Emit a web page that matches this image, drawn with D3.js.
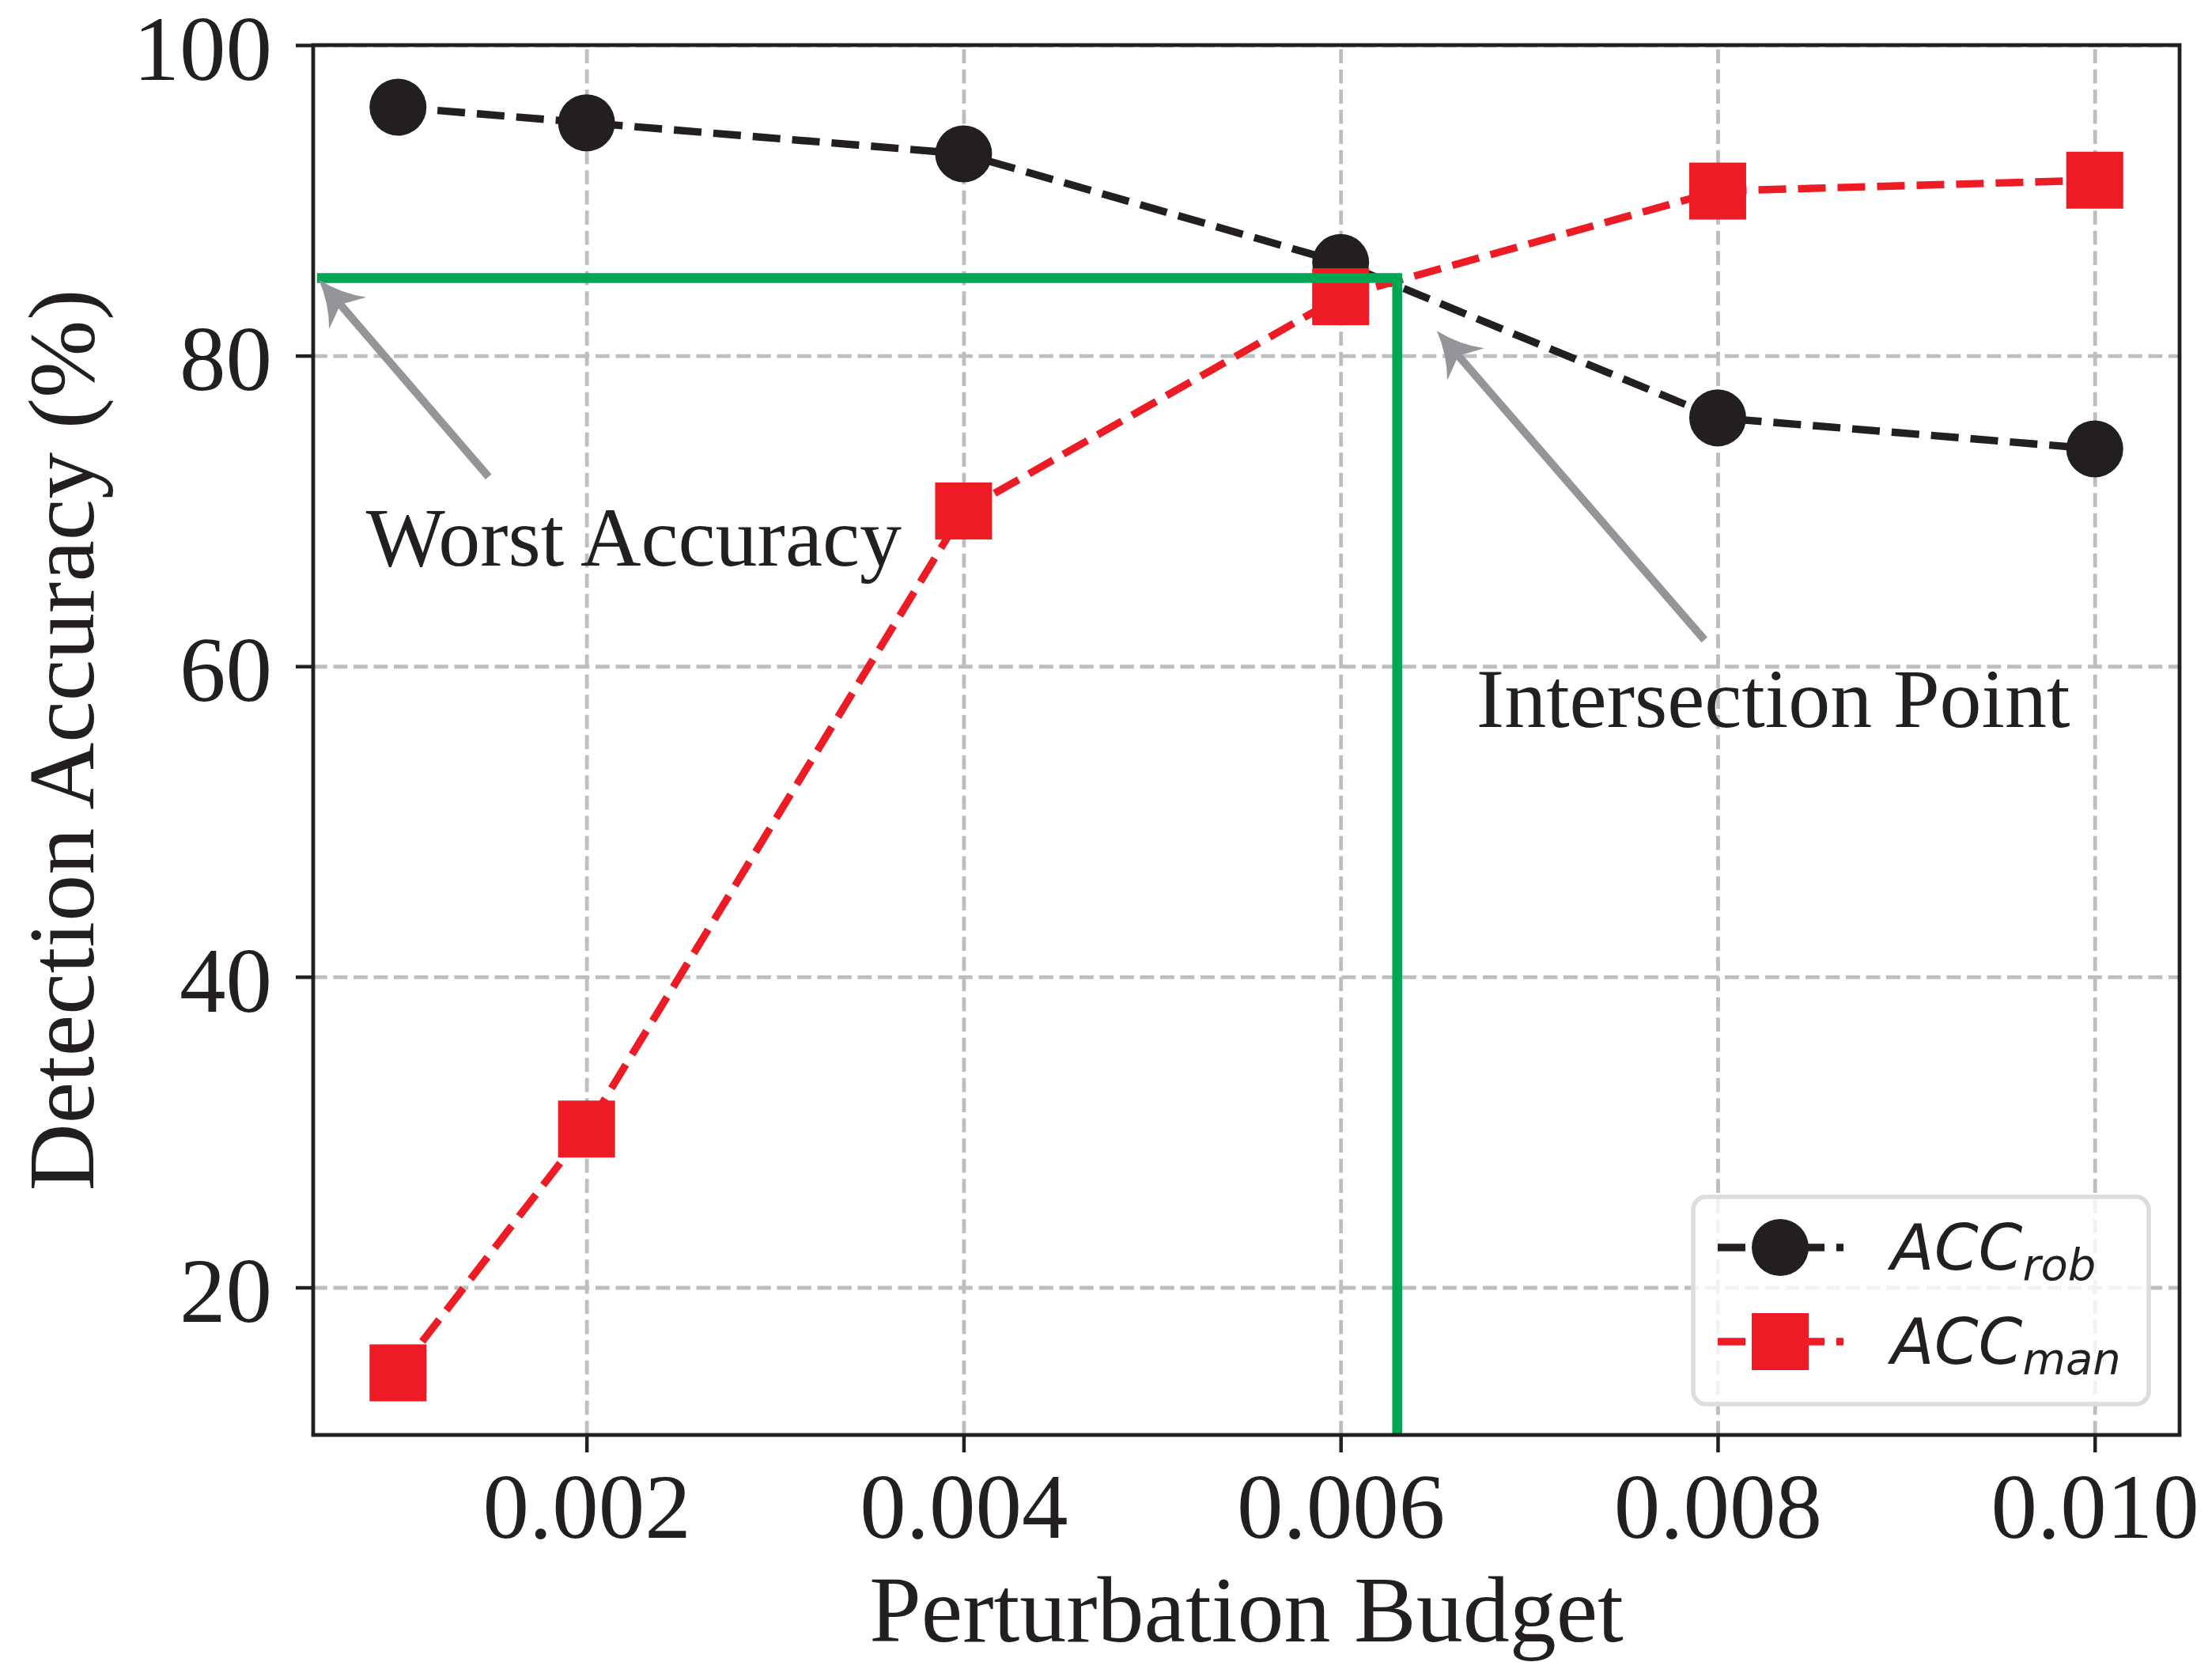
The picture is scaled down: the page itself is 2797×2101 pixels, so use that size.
<!DOCTYPE html>
<html>
<head>
<meta charset="utf-8">
<script src="https://cdn.jsdelivr.net/npm/d3@7"></script>
<style>
  html, body { margin: 0; padding: 0; background: #fff; }
  svg { display: block; }
</style>
</head>
<body>
<div id="chart"></div>
<script>
// perturbation budgets on the x axis
const budgets = [0.001, 0.002, 0.004, 0.006, 0.008, 0.010];
// ACC_rob and ACC_man (%)
const accRob = [96, 95, 93, 86, 76, 74];
const accMan = [14.5, 30.2, 70, 83.8, 90.6, 91.3];

const xTicks = [0.002, 0.004, 0.006, 0.008, 0.010];
const yTicks = [20, 40, 60, 80, 100];

// green guide: worst accuracy level and crossing budget
const guideX = [0.00057, 0.0063, 0.0063];
const guideY = [85, 85, 10.5];

// annotations (data units)
const noteLabels = ["Worst Accuracy", "Intersection Point"];
const noteTips = [[0.00058, 84.9], [0.00651, 81.6]];
const noteTails = [[0.00148, 72.2], [0.00793, 61.7]];
const noteText = [[0.00083, 66.5], [0.00672, 56.1]];

const W = 2797, H = 2101;
const margin = { top: 57, right: 41, bottom: 287, left: 396 },
  width = W - margin.left - margin.right,
  height = H - margin.top - margin.bottom;

const ink = "#231f20", red = "#ed1c24", green = "#00a651", arrowGray = "#939598";
const serif = "'Liberation Serif', 'Times New Roman', serif";

const svg = d3.select("#chart")
  .append("svg")
  .attr("width", W)
  .attr("height", H)
  .style("background", "#fff");

const g = svg.append("g")
  .attr("transform", `translate(${margin.left},${margin.top})`);

const x = d3.scaleLinear().domain([0.00055, 0.01045]).range([0, width]);
const y = d3.scaleLinear().domain([10.5, 100]).range([height, 0]);

// grid
const gridStyle = sel => sel.selectAll("line")
  .attr("stroke", "#bcbec0")
  .attr("stroke-width", 4.8)
  .attr("stroke-dasharray", "17.8 7.7");

g.append("g")
  .attr("transform", `translate(0,${height})`)
  .call(d3.axisBottom(x).tickValues(xTicks).tickSize(-height).tickFormat(""))
  .call(s => s.select(".domain").remove())
  .call(gridStyle);
g.append("g")
  .call(d3.axisLeft(y).tickValues(yTicks).tickSize(-width).tickFormat(""))
  .call(s => s.select(".domain").remove())
  .call(gridStyle);

// series
const lineGen = d3.line().x(d => x(d[0])).y(d => y(d[1]));
const rob = budgets.map((b, i) => [b, accRob[i]]);
const man = budgets.map((b, i) => [b, accMan[i]]);
const lw = 9.4, dash = "35 15";
const mk = 72;

g.append("path").datum(rob)
  .attr("d", lineGen).attr("fill", "none")
  .attr("stroke", ink).attr("stroke-width", lw).attr("stroke-dasharray", dash);
g.selectAll(".rob").data(rob).join("circle")
  .attr("class", "rob")
  .attr("cx", d => x(d[0])).attr("cy", d => y(d[1]))
  .attr("r", mk / 2).attr("fill", ink);

g.append("path").datum(man)
  .attr("d", lineGen).attr("fill", "none")
  .attr("stroke", red).attr("stroke-width", lw).attr("stroke-dasharray", dash);
g.selectAll(".man").data(man).join("rect")
  .attr("class", "man")
  .attr("x", d => x(d[0]) - mk / 2).attr("y", d => y(d[1]) - mk / 2)
  .attr("width", mk).attr("height", mk).attr("fill", red);

// green guide
g.append("path")
  .datum(guideX.map((v, i) => [v, guideY[i]]))
  .attr("d", lineGen).attr("fill", "none")
  .attr("stroke", green).attr("stroke-width", 12.5)
  .attr("stroke-linejoin", "miter");

// arrows + notes
function arrowPath(tail, tip) {
  const dx = tail[0] - tip[0], dy = tail[1] - tip[1];
  const len = Math.hypot(dx, dy);
  const ux = dx / len, uy = dy / len, nx = -uy, ny = ux;
  const P = (a, p) => [tip[0] + ux * a + nx * p, tip[1] + uy * a + ny * p];
  const hl = 56, hw = 31, notch = 44, sw = 5;
  const w1 = P(hl, -hw), w2 = P(hl, hw), c1 = P(32, -10), c2 = P(32, 10);
  const s1 = P(notch, -sw), s2 = P(notch, sw);
  const t1 = [tail[0] - nx * sw, tail[1] - ny * sw], t2 = [tail[0] + nx * sw, tail[1] + ny * sw];
  return `M${tip}Q${c1} ${w1}L${s1}L${t1}L${t2}L${s2}L${w2}Q${c2} ${tip}Z`;
}
noteLabels.forEach((label, i) => {
  const tip = [x(noteTips[i][0]), y(noteTips[i][1])];
  const tail = [x(noteTails[i][0]), y(noteTails[i][1])];
  g.append("path").attr("d", arrowPath(tail, tip)).attr("fill", arrowGray);
  g.append("text")
    .attr("x", x(noteText[i][0])).attr("y", y(noteText[i][1]))
    .attr("font-family", serif).attr("font-size", 106).attr("fill", ink)
    .text(label);
});

// spines
g.append("rect")
  .attr("width", width).attr("height", height)
  .attr("fill", "none").attr("stroke", ink).attr("stroke-width", 4.8);

// axes
const xAxis = g.append("g")
  .attr("transform", `translate(0,${height})`)
  .call(d3.axisBottom(x).tickValues(xTicks).tickSize(22).tickSizeOuter(0)
    .tickFormat(d3.format(".3f")));
const yAxis = g.append("g")
  .call(d3.axisLeft(y).tickValues(yTicks).tickSize(22).tickSizeOuter(0)
    .tickFormat(d3.format("d")));
[xAxis, yAxis].forEach(a => {
  a.select(".domain").remove();
  a.selectAll(".tick line").attr("stroke", ink).attr("stroke-width", 4.5);
  a.selectAll(".tick text")
    .attr("font-family", serif).attr("font-size", 117).attr("fill", ink);
});
xAxis.selectAll(".tick text").attr("y", 130).attr("dy", 0);
yAxis.selectAll(".tick text").attr("x", -52).attr("dy", "0.37em");

// axis labels
svg.append("text")
  .attr("x", margin.left + width / 2).attr("y", 2075)
  .attr("text-anchor", "middle")
  .attr("font-family", serif).attr("font-size", 118).attr("fill", ink)
  .text("Perturbation Budget");
svg.append("text")
  .attr("transform", `translate(118,${margin.top + height / 2}) rotate(-90)`)
  .attr("text-anchor", "middle")
  .attr("font-family", serif).attr("font-size", 118).attr("fill", ink)
  .text("Detection Accuracy (%)");

// legend
const legend = svg.append("g").attr("transform", "translate(2141,1513)");
legend.append("rect")
  .attr("width", 576).attr("height", 262).attr("rx", 16)
  .attr("fill", "#fff").attr("fill-opacity", 0.8)
  .attr("stroke", "#dcddde").attr("stroke-width", 5.5);
const legendItems = [
  { sub: "rob", color: ink, shape: "circle" },
  { sub: "man", color: red, shape: "square" }
];
legendItems.forEach((it, i) => {
  const cy = 64 + i * 119;
  const row = legend.append("g").attr("transform", `translate(0,${cy})`);
  row.append("line")
    .attr("x1", 31).attr("x2", 190).attr("y1", 0).attr("y2", 0)
    .attr("stroke", it.color).attr("stroke-width", lw).attr("stroke-dasharray", dash);
  if (it.shape === "circle") {
    row.append("circle").attr("cx", 110).attr("cy", 0).attr("r", mk / 2).attr("fill", it.color);
  } else {
    row.append("rect").attr("x", 110 - mk / 2).attr("y", -mk / 2)
      .attr("width", mk).attr("height", mk).attr("fill", it.color);
  }
  const t = row.append("text")
    .attr("x", 250).attr("y", 28)
    .attr("font-family", "'DejaVu Sans', sans-serif").attr("font-style", "italic")
    .attr("font-size", 80).attr("fill", ink);
  t.append("tspan").text("ACC");
  t.append("tspan").attr("font-size", 56).attr("dy", 13).text(it.sub);
});
</script>
</body>
</html>
